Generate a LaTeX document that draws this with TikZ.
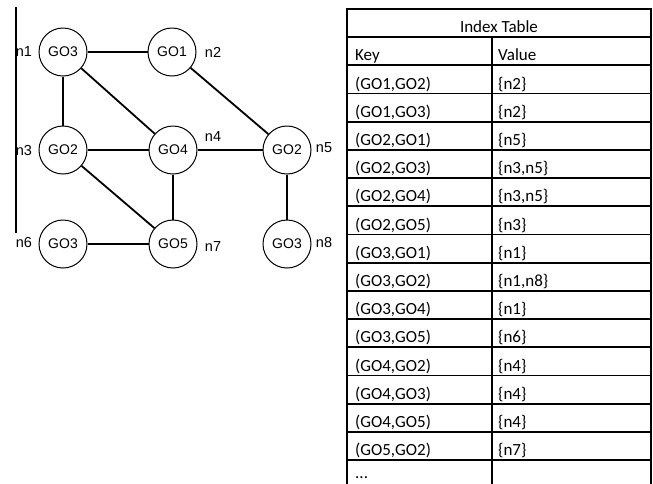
\documentclass[tikz,border=0pt]{standalone}
\usepackage{fontspec}
\setmainfont{Liberation Sans}
\newfontfamily\tablefont{Carlito}

\tikzset{
  gnode/.style={circle, draw, line width=1pt, minimum size=48pt, inner sep=0pt,
    font=\fontsize{14}{16}\selectfont},
  nlabel/.style={inner sep=0pt, font=\fontsize{14.5}{17}\selectfont},
  edge/.style={line width=1.8pt},
  cell/.style={draw, line width=1.8pt, anchor=north west, minimum height=28.2pt,
    inner sep=0pt, outer sep=0pt},
  celltext/.style={anchor=base west, inner sep=0pt,
    font=\tablefont\fontsize{17}{20}\selectfont},
  titletext/.style={anchor=base, inner sep=0pt,
    font=\tablefont\fontsize{17}{20}\selectfont}
}

\begin{document}
\begin{tikzpicture}[x=1pt,y=-1pt]
\useasboundingbox (0,0) rectangle (653,483);

% ---------- graph ----------
\coordinate (vtop) at (16,7);
\coordinate (vbot) at (16,233);
\draw[line width=1.3pt] (vtop) -- (vbot);

\node[gnode] (g1) at (63,52)   {GO3};
\node[gnode] (g2) at (172,52)  {GO1};
\node[gnode] (g3) at (63,150)  {GO2};
\node[gnode] (g4) at (173,150) {GO4};
\node[gnode] (g5) at (287,150) {GO2};
\node[gnode] (g6) at (63,244)  {GO3};
\node[gnode] (g7) at (173,244) {GO5};
\node[gnode] (g8) at (287,244) {GO3};

\node[nlabel] (l1) at (24,52)   {n1};
\node[nlabel] (l2) at (213,52)  {n2};
\node[nlabel] (l3) at (24,151)  {n3};
\node[nlabel] (l4) at (213,137) {n4};
\node[nlabel] (l5) at (324,148) {n5};
\node[nlabel] (l6) at (24,243)  {n6};
\node[nlabel] (l7) at (213,247) {n7};
\node[nlabel] (l8) at (324,243) {n8};

\draw[edge] (g1) -- (g2);
\draw[edge] (g1) -- (g3);
\draw[edge] (g1) -- (g4);
\draw[edge] (g2) -- (g5);
\draw[edge] (g3) -- (g4);
\draw[edge] (g4) -- (g5);
\draw[edge] (g3) -- (g7);
\draw[edge] (g4) -- (g7);
\draw[edge] (g6) -- (g7);
\draw[edge] (g5) -- (g8);

% ---------- index table ----------
\node[cell, minimum width=304pt, minimum height=28pt] (title) at (347,9) {};
\node[titletext] (titlet) at (499,32) {Index Table};

\node[cell, minimum width=145pt] (k0) at (347,37) {};
\node[cell, minimum width=159pt] (v0) at (492,37) {};
\node[celltext] (kt0) at (355,60.5) {Key};
\node[celltext] (vt0) at (498,60.5) {Value};

\foreach \i/\k/\v/\b in {
  1/{(GO1,GO2)}/{\{n2\}}/23.8,
  2/{(GO1,GO3)}/{\{n2\}}/23.8,
  3/{(GO2,GO1)}/{\{n5\}}/23.8,
  4/{(GO2,GO3)}/{\{n3,n5\}}/23.8,
  5/{(GO2,GO4)}/{\{n3,n5\}}/23.8,
  6/{(GO2,GO5)}/{\{n3\}}/23.8,
  7/{(GO3,GO1)}/{\{n1\}}/23.8,
  8/{(GO3,GO2)}/{\{n1,n8\}}/23.8,
  9/{(GO3,GO4)}/{\{n1\}}/23.8,
  10/{(GO3,GO5)}/{\{n6\}}/23.8,
  11/{(GO4,GO2)}/{\{n4\}}/23.8,
  12/{(GO4,GO3)}/{\{n4\}}/23.8,
  13/{(GO4,GO5)}/{\{n4\}}/23.8,
  14/{(GO5,GO2)}/{\{n7\}}/23.8,
  15/{...}/{}/18}{
  \pgfmathsetmacro\rtop{37+28.2*\i}
  \pgfmathsetmacro\rbase{\rtop+\b}
  \node[cell, minimum width=145pt] (k\i) at (347,\rtop) {};
  \node[cell, minimum width=159pt] (v\i) at (492,\rtop) {};
  \node[celltext] (kt\i) at (355,\rbase) {\k};
  \node[celltext] (vt\i) at (498,\rbase) {\v};
}
\end{tikzpicture}
\end{document}
